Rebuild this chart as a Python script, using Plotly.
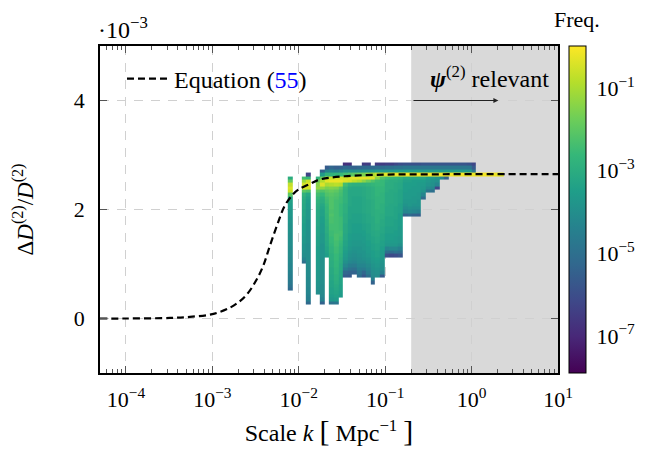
import plotly.graph_objects as go

FONT = "Liberation Serif"

# Equation (55) curve
curve_log_k = [-4.30, -4.00, -3.49, -3.26, -3.00, -2.80, -2.68, -2.586, -2.489, -2.413, -2.335,
               -2.24, -2.162, -2.066, -2.00, -1.87, -1.757, -1.47, -1.00, -0.50, 0.00, 1.00]
curve_delta = [0.00, 0.00, 0.01, 0.03, 0.08, 0.195, 0.32, 0.47, 0.71, 0.96, 1.33,
               1.76, 2.07, 2.28, 2.37, 2.47, 2.55, 2.61, 2.64, 2.645, 2.65, 2.65]

# Histogram grid
log_k_first_edge = -2.127
log_k_bin = 0.0532
delta_first_edge = 2.862
delta_bin = 0.062
n_cols = 47
n_rows = 42

# column index -> (first row from the top, log10 frequency of each row downwards)
columns = {
    0: (4, [-3.0,-1.9,-0.7,-0.4,-0.6,-2.0,-3.2,-3.4,-3.5,-3.6,
            -3.7,-3.7,-3.8,-3.8,-3.9,-3.9,-3.9,-4.0,-4.0,-4.0,
            -4.0,-4.1,-4.1,-4.1,-4.2,-4.2,-4.3,-4.3,-4.4,-4.5,
            -4.6,-4.7,-4.9,-5.2]),
    3: (4, [-2.4,-1.2,-0.5,-0.4,-2.0,-2.8,-3.0,-3.1,-3.2,-3.2,
            -3.3,-3.3,-3.4,-3.4,-3.5,-3.5,-3.6,-3.6,-3.7,-3.7,
            -3.8,-3.8,-3.9,-4.0,-4.3,-5.0]),
    4: (3, [-6.3,-2.6,-0.6,-0.3,-0.5,-2.2,-3.2,-3.4,-3.5,-3.6,
            -3.6,-3.7,-3.7,-3.7,-3.8,-3.8,-3.8,-3.9,-3.9,-3.9,
            -3.9,-4.0,-4.0,-4.0,-4.0,-4.0,-4.1,-4.1,-4.1,-4.1,
            -4.1,-4.2,-4.2,-4.2,-4.3,-4.3,-4.4,-4.5,-5.2]),
    6: (4, [-2.8,-1.8,-1.4,-1.3,-2.0,-2.4,-2.6,-2.8,-2.9,-3.0,
            -3.1,-3.1,-3.2,-3.2,-3.2,-3.3,-3.3,-3.3,-3.4,-3.4,
            -3.4,-3.5,-3.5,-3.5,-3.5,-3.6,-3.6,-3.6,-3.7,-3.7,
            -3.7,-3.8,-3.8,-3.9,-4.0]),
    7: (2, [-5.4,-3.6,-1.9,-0.9,-0.4,-1.3,-2.2,-2.6,-2.9,-3.0,
            -3.2,-3.3,-3.4,-3.4,-3.5,-3.5,-3.6,-3.6,-3.6,-3.7,
            -3.7,-3.7,-3.8,-3.8,-3.8,-3.8,-3.9,-3.9,-3.9,-3.9,
            -4.0,-4.0,-4.0,-4.0,-4.1,-4.1,-4.1,-4.2,-4.4,-5.4]),
    8: (1, [-5.6,-4.4,-2.8,-0.7,-0.3,-1.0,-1.6,-2.0,-2.2,-2.4,
            -2.5,-2.6,-2.7,-2.7,-2.8,-2.8,-2.9,-2.9,-3.0,-3.0,
            -3.1,-3.1,-3.2,-3.2,-3.3,-3.4,-3.5]),
    9: (1, [-5.3,-4.3,-2.8,-0.6,-0.2,-0.9,-1.5,-1.9,-2.1,-2.2,
            -2.2,-2.2,-2.2,-2.3,-2.2,-2.3,-2.3,-2.4,-2.4,-2.5,
            -2.5,-2.6,-2.6,-2.7,-2.8,-2.8,-2.9,-2.9,-3.0,-3.0,
            -3.1,-3.1,-3.2,-3.2,-3.3,-3.3,-3.4,-3.4,-3.5,-3.7,-4.9]),
    10: (1, [-5.5,-4.4,-2.7,-0.5,-0.2,-0.8,-1.6,-2.0,-2.2,-2.3,
             -2.4,-2.4,-2.4,-2.4,-2.4,-2.4,-2.4,-2.4,-2.4,-2.4,
             -2.3,-2.3,-2.4,-2.4,-2.5,-2.5,-2.6,-2.6,-2.7,-2.7,
             -2.8,-2.8,-2.9,-2.9,-3.0,-3.1,-3.2,-3.3,-3.4,-3.6,-4.8]),
    11: (1, [-5.4,-4.2,-2.6,-0.5,-0.2,-0.9,-2.0,-2.3,-2.4,-2.5,
             -2.5,-2.6,-2.6,-2.6,-2.6,-2.5,-2.5,-2.5,-2.5,-2.4,
             -2.4,-2.5,-2.6,-2.7,-2.8,-2.8,-2.9,-3.0,-3.0,-3.1,
             -3.1,-3.2,-3.2,-3.3,-3.3,-3.4,-3.4,-3.5,-3.6]),
    12: (0, [-6.8,-5.2,-3.9,-2.4,-0.5,-0.4,-2.4,-2.7,-2.8,-2.8,
             -2.8,-2.8,-2.9,-2.9,-2.9,-3.0,-3.0,-3.0,-3.1,-3.1,
             -3.1,-3.2,-3.2,-3.3,-3.3,-3.4,-3.5,-3.6,-3.7,-3.9,
             -4.2,-4.6,-5.3,-5.6]),
    13: (0, [-6.8,-5.3,-3.9,-2.2,-0.4,-0.5,-2.8,-3.1,-3.2,-3.2,
             -3.2,-3.2,-3.2,-3.3,-3.3,-3.3,-3.3,-3.4,-3.4,-3.4,
             -3.4,-3.5,-3.5,-3.6,-3.6,-3.7,-3.8,-3.9,-4.0,-4.2,
             -4.5,-4.9,-5.4,-5.7]),
    14: (1, [-5.4,-3.9,-2.0,-0.3,-0.8,-2.9,-3.2,-3.2,-3.2,-3.3,
             -3.3,-3.3,-3.3,-3.3,-3.4,-3.4,-3.4,-3.5,-3.5,-3.5,
             -3.6,-3.6,-3.7,-3.7,-3.8,-3.9,-4.0,-4.1,-4.3,-4.6,
             -5.0,-5.4]),
    15: (1, [-5.3,-3.9,-1.8,-0.3,-1.0,-2.9,-3.2,-3.2,-3.2,-3.3,
             -3.3,-3.3,-3.3,-3.3,-3.4,-3.4,-3.4,-3.5,-3.5,-3.5,
             -3.6,-3.6,-3.7,-3.7,-3.8,-3.8,-3.9,-4.0,-4.1,-4.3,
             -4.5,-4.8,-5.1]),
    16: (0, [-6.5,-5.2,-3.8,-1.6,-0.3,-1.4,-2.9,-3.1,-3.1,-3.1,
             -3.2,-3.2,-3.2,-3.2,-3.2,-3.3,-3.3,-3.3,-3.4,-3.4,
             -3.5,-3.5,-3.6,-3.6,-3.7,-3.7,-3.8,-3.8,-3.9,-4.1,
             -4.3,-4.6,-5.3,-5.7]),
    17: (0, [-6.5,-5.2,-3.8,-1.3,-0.3,-1.8,-2.8,-3.0,-3.0,-3.0,
             -3.0,-3.1,-3.1,-3.1,-3.1,-3.2,-3.2,-3.2,-3.3,-3.3,
             -3.3,-3.4,-3.4,-3.5,-3.5,-3.6,-3.6,-3.7,-3.8,-3.9,
             -4.1,-4.3,-4.6,-5.0]),
    18: (1, [-5.2,-3.7,-1.0,-0.4,-2.2,-2.7,-2.9,-2.9,-2.9,-2.9,
             -3.0,-3.0,-3.0,-3.0,-3.0,-3.1,-3.1,-3.1,-3.1,-3.2,
             -3.2,-3.3,-3.3,-3.4,-3.4,-3.5,-3.5,-3.6,-3.7,-3.8,
             -3.9,-4.0,-4.1,-4.4,-5.4]),
    19: (0, [-6.5,-5.1,-3.6,-0.6,-1.4,-2.5,-2.6,-2.7,-2.7,-2.7,
             -2.8,-2.8,-2.8,-2.8,-2.9,-2.9,-2.9,-2.9,-3.0,-3.0,
             -3.1,-3.1,-3.2,-3.2,-3.3,-3.3,-3.4,-3.4,-3.5,-3.6,
             -3.7,-3.8,-3.9,-4.0]),
    20: (0, [-6.5,-5.1,-3.6,-0.5,-2.2,-2.6,-2.6,-2.7,-2.7,-2.8,
             -2.8,-2.8,-2.9,-2.9,-2.9,-3.0,-3.0,-3.1,-3.1,-3.2,
             -3.2,-3.3,-3.3,-3.4,-3.4,-3.5,-3.6,-3.6,-3.7,-3.8,
             -3.9,-4.0,-4.4,-5.6]),
    21: (0, [-6.4,-5.0,-3.6,-0.3,-2.5,-2.9,-3.0,-3.0,-3.0,-3.1,
             -3.1,-3.1,-3.1,-3.2,-3.2,-3.2,-3.3,-3.3,-3.3,-3.4,
             -3.4,-3.5,-3.5,-3.6,-3.7,-4.3,-5.0,-5.9]),
    22: (0, [-6.4,-5.0,-3.6,-0.2,-2.6,-3.0,-3.0,-3.0,-3.1,-3.1,
             -3.1,-3.1,-3.2,-3.2,-3.2,-3.2,-3.3,-3.3,-3.3,-3.4,
             -3.4,-3.5,-3.5,-3.6,-3.7,-4.2,-5.1,-6.1]),
    23: (0, [-6.2,-4.9,-3.5,-0.2,-2.7,-3.0,-3.1,-3.1,-3.1,-3.2,
             -3.2,-3.2,-3.2,-3.3,-3.3,-3.3,-3.3,-3.4,-3.4,-3.4,
             -3.5,-3.5,-3.6,-3.6,-3.7,-4.2,-4.9,-6.0]),
    24: (0, [-6.0,-4.9,-3.5,-0.2,-2.8,-3.1,-3.2,-3.2,-3.3,-3.3,
             -3.3,-3.3,-3.4,-3.4,-3.4,-3.5,-3.5,-3.5,-3.5,-3.6,
             -3.6,-3.6,-3.7,-3.7,-3.9,-4.4,-5.1,-5.8]),
    25: (0, [-5.9,-4.8,-3.5,-0.1,-3.1,-3.4,-3.5,-3.5,-3.5,-3.6,
             -3.6,-3.7,-3.8,-4.0,-4.3,-5.4]),
    26: (0, [-5.9,-4.8,-3.5,-0.1,-3.1,-3.4,-3.5,-3.5,-3.6,-3.6,
             -3.6,-3.7,-3.7,-3.9,-4.2,-5.2]),
    27: (0, [-5.9,-4.8,-3.5,-0.1,-3.2,-3.5,-3.5,-3.6,-3.6,-3.6,
             -3.7,-3.7,-3.8,-4.0,-4.3,-5.4]),
    28: (0, [-5.9,-4.8,-3.5,-0.1,-3.2,-3.5,-3.6,-3.6,-3.6,-3.7,
             -3.7,-3.8,-3.8,-4.0,-4.4,-5.5]),
    29: (0, [-5.8,-4.8,-3.6,-0.1,-3.2,-3.5,-3.6,-3.7,-3.8,-4.3,-5.1]),
    30: (0, [-5.8,-4.8,-3.6,-0.1,-3.5,-3.7,-3.8,-4.1,-4.8]),
    31: (0, [-5.8,-4.8,-3.6,-0.1,-3.6,-3.8,-3.9,-4.2,-5.0]),
    32: (0, [-5.8,-4.8,-3.6,-0.1,-3.8,-3.9,-4.3,-6.2]),
    33: (0, [-5.8,-4.8,-3.6,-0.1,-4.2]),
    34: (0, [-5.8,-4.8,-3.6,-0.1,-5.4]),
    35: (0, [-5.8,-4.8,-3.6,-0.1]),
    36: (0, [-5.8,-4.8,-3.6,-0.1]),
    37: (0, [-5.8,-4.8,-3.6,-0.1]),
    38: (0, [-5.8,-4.8,-3.6,-0.1]),
    39: (0, [-5.9,-4.8,-3.7,-0.1]),
    40: (0, [-6.2,-5.7,-4.8,-0.2]),
    41: (3, [-0.1]),
    42: (3, [-0.1]),
    43: (3, [-0.1]),
    44: (3, [-0.1]),
    45: (3, [-0.2]),
    46: (3, [-0.3]),
}

x_tick_vals = [1e-4, 1e-3, 1e-2, 1e-1, 1e0, 1e1]
x_tick_text = ["10<sup>−4</sup>", "10<sup>−3</sup>", "10<sup>−2</sup>", "10<sup>−1</sup>", "10<sup>0</sup>", "10<sup>1</sup>"]
y_tick_vals = [0, 2, 4]
c_tick_vals = [-7, -5, -3, -1]
c_tick_text = ["10<sup>−7</sup>", "10<sup>−5</sup>", "10<sup>−3</sup>", "10<sup>−1</sup>"]
relevant_from_k = 0.2

x_edges = [10 ** (log_k_first_edge + i * log_k_bin) for i in range(n_cols + 1)]
y_edges = [delta_first_edge - j * delta_bin for j in range(n_rows + 1)]
z = [[None] * n_cols for _ in range(n_rows)]
for col, (top, vals) in columns.items():
    for offset, v in enumerate(vals):
        z[top + offset][col] = v

fig = go.Figure()
fig.add_trace(go.Heatmap(
    x=x_edges, y=y_edges, z=z, zmin=-7.9, zmax=0.02, colorscale="Viridis",
    showlegend=False, hoverongaps=False,
    colorbar=dict(
        thickness=17, thicknessmode="pixels", len=1, lenmode="fraction", x=1.024, xanchor="left",
        y=0, yanchor="bottom", outlinewidth=1, outlinecolor="black", tickvals=c_tick_vals,
        ticktext=c_tick_text, ticks="outside", ticklen=6, tickcolor="rgba(0,0,0,0)",
        tickfont=dict(family=FONT, size=22, color="black"), xpad=0, ypad=0),
))
fig.add_trace(go.Scatter(
    x=[10 ** v for v in curve_log_k], y=curve_delta, mode="lines",
    name='Equation (<span style="color:#0000ff">55</span>)',
    line=dict(color="black", width=2.2, dash="7px,4px", shape="spline"),
))

axis_common = dict(
    showline=True, linecolor="black", linewidth=1.5, mirror="ticks", ticks="inside",
    tickcolor="#555555", tickwidth=1, ticklen=7, showgrid=True, gridcolor="#d0d0d0", gridwidth=1,
    griddash="9px,8px", zeroline=False, tickfont=dict(family=FONT, size=22, color="black"),
)
fig.update_xaxes(
    type="log", range=[-4.3, 1], tickvals=x_tick_vals, ticktext=x_tick_text, ticklabelstandoff=6,
    minor=dict(ticks="inside", ticklen=4, tickcolor="#555555", tickwidth=1, showgrid=False,
               tickvals=[m * 10 ** e for e in range(-5, 1) for m in range(2, 10)]),
    title=dict(text='Scale <i>k</i> <span style="font-size:30px">[</span> Mpc<sup>−1</sup> <span style="font-size:30px">]</span>',
               font=dict(family=FONT, size=24, color="black"), standoff=13),
    **axis_common,
)
fig.update_yaxes(
    range=[-1, 5], tickvals=y_tick_vals, ticktext=[str(v) for v in y_tick_vals], ticklabelstandoff=9,
    title=dict(text="Δ<i>D</i><sup>(2)</sup>/<i>D</i><sup>(2)</sup>", font=dict(family=FONT, size=23, color="black"), standoff=34),
    **axis_common,
)
fig.add_shape(type="rect", xref="x", yref="paper", x0=relevant_from_k, x1=10, y0=0, y1=1,
              fillcolor="#d9d9d9", line_width=0, layer="below")
fig.add_annotation(xref="x", yref="y", x=0.31, y=4, ax=-0.69, ay=4, axref="x", ayref="y",
                   text="", showarrow=True, arrowhead=2, arrowsize=1, arrowwidth=1, arrowcolor="#222222")
fig.add_annotation(xref="paper", yref="paper", x=0.985, y=0.905, xanchor="right", yanchor="middle", showarrow=False,
                   text="<b><i>ψ</i></b><sup>(2)</sup> relevant", font=dict(family=FONT, size=24, color="black"))
fig.add_annotation(xref="paper", yref="paper", x=0, y=1.0, xanchor="left", yanchor="bottom", showarrow=False,
                   xshift=-4, yshift=1,
                   text="·10<sup>−3</sup>", font=dict(family=FONT, size=24, color="black"))
fig.add_annotation(xref="paper", yref="paper", x=1.0415, y=1.08, xanchor="center", yanchor="middle", showarrow=False,
                   text="Freq.", font=dict(family=FONT, size=22, color="black"))
fig.update_layout(
    width=657, height=447, autosize=False, margin=dict(l=92, r=107, t=38, b=82),
    paper_bgcolor="white", plot_bgcolor="white", font=dict(family=FONT, size=22, color="black"),
    legend=dict(x=0.048, y=0.968, xanchor="left", yanchor="top", bgcolor="rgba(0,0,0,0)", itemwidth=42,
                font=dict(family=FONT, size=24, color="black"), borderwidth=0),
    showlegend=True,
)
fig.write_html("out.html")
